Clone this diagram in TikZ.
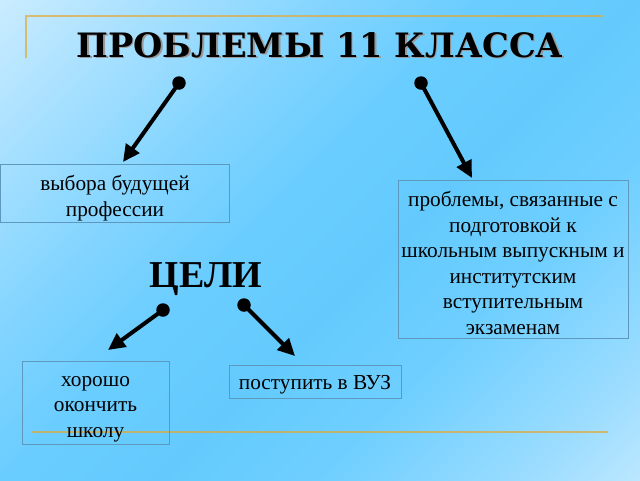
\documentclass[tikz,border=0pt]{standalone}
\usepackage{fontspec}
\setmainfont{Liberation Serif}
\newfontfamily\titlefont{DejaVu Serif}
\usetikzlibrary{arrows.meta}
\definecolor{bgA}{HTML}{EEF9FF}
\definecolor{bgB}{HTML}{D2EFFF}
\definecolor{bgC}{HTML}{B0E3FF}
\definecolor{bgD}{HTML}{84D5FF}
\definecolor{bgE}{HTML}{6ACDFF}
\definecolor{bgF}{HTML}{64CAFD}
\definecolor{bgG}{HTML}{6ECFFF}
\definecolor{bgH}{HTML}{9ADCFF}
\definecolor{bgI}{HTML}{C6EBFF}
\definecolor{bgJ}{HTML}{F8FDFF}
\definecolor{goldc}{HTML}{E4A836}
\definecolor{boxc}{HTML}{5E98BC}
\pgfdeclarehorizontalshading{bgshade}{100bp}{color(0bp)=(bgA); color(12bp)=(bgB); color(22bp)=(bgC); color(35bp)=(bgD); color(45bp)=(bgE); color(55bp)=(bgF); color(65bp)=(bgG); color(78bp)=(bgH); color(88bp)=(bgI); color(100bp)=(bgJ)}
\begin{document}
\begin{tikzpicture}[x=1pt,y=-1pt,
  goldline/.style={draw=goldc, line width=2.2pt, draw opacity=0.7},
  box/.style={draw=boxc, line width=0.9pt, inner sep=0pt},
  boxtext/.style={align=center, inner sep=0pt, font=\fontsize{21.3}{25.6}\selectfont},
  titletext/.style={font=\fontsize{33.6}{40}\selectfont\titlefont\bfseries, inner sep=0pt, anchor=base},
  goaltext/.style={font=\fontsize{38}{44}\selectfont\bfseries, inner sep=0pt, anchor=base},
  dot/.style={circle, fill=black, inner sep=0pt, minimum size=13.5pt},
  conn/.style={line width=4pt, -{Triangle[length=17pt,width=16pt]}}]
\useasboundingbox (0,0) rectangle (640,480);
\shade[shading=bgshade, shading angle=-45] (0,0) rectangle (640,480);
% decorative lines
\coordinate (gTL) at (26,16);
\coordinate (gTR) at (603,16);
\coordinate (gTB) at (26,58);
\coordinate (gBL) at (32,432);
\coordinate (gBR) at (608,432);
\draw[goldline] (gTB) -- (gTL) -- (gTR);
\draw[goldline] (gBL) -- (gBR);
% title
\node[titletext, text=black!40] at (321.5,58.5) {ПРОБЛЕМЫ 11 КЛАССА};
\node[titletext] (title) at (320,57) {ПРОБЛЕМЫ 11 КЛАССА};
\node[goaltext] (goals) at (206,287) {ЦЕЛИ};
% boxes
\node[box, minimum width=229pt, minimum height=58pt] (b1) at (115,193) {};
\node[boxtext] (b1t) at ([yshift=-5pt]b1.center) {выбора будущей\\профессии};
\node[box, minimum width=230pt, minimum height=158pt] (b2) at (513,259) {};
\node[boxtext] (b2t) at ([yshift=-4pt]b2.center)
  {проблемы, связанные с\\подготовкой к\\школьным выпускным и\\институтским\\вступительным\\экзаменам};
\node[box, minimum width=147pt, minimum height=83pt] (b3) at (95.5,403) {};
\node[boxtext] (b3t) at ([yshift=-6pt]b3.center) {хорошо\\окончить\\школу};
\node[box, minimum width=172pt, minimum height=33pt] (b4) at (315,381.5) {};
\node[boxtext] (b4t) at ([yshift=-3pt]b4.center) {поступить в ВУЗ};
% arrows
\node[dot] (d1) at (179,83) {};
\node[dot] (d2) at (421,83) {};
\node[dot] (d3) at (163,310) {};
\node[dot] (d4) at (244,305) {};
\coordinate (e1) at (123,162);
\coordinate (e2) at (472,178);
\coordinate (e3) at (108,350);
\coordinate (e4) at (295,356);
\draw[conn] (d1.center) -- (e1);
\draw[conn] (d2.center) -- (e2);
\draw[conn] (d3.center) -- (e3);
\draw[conn] (d4.center) -- (e4);
\end{tikzpicture}
\end{document}
